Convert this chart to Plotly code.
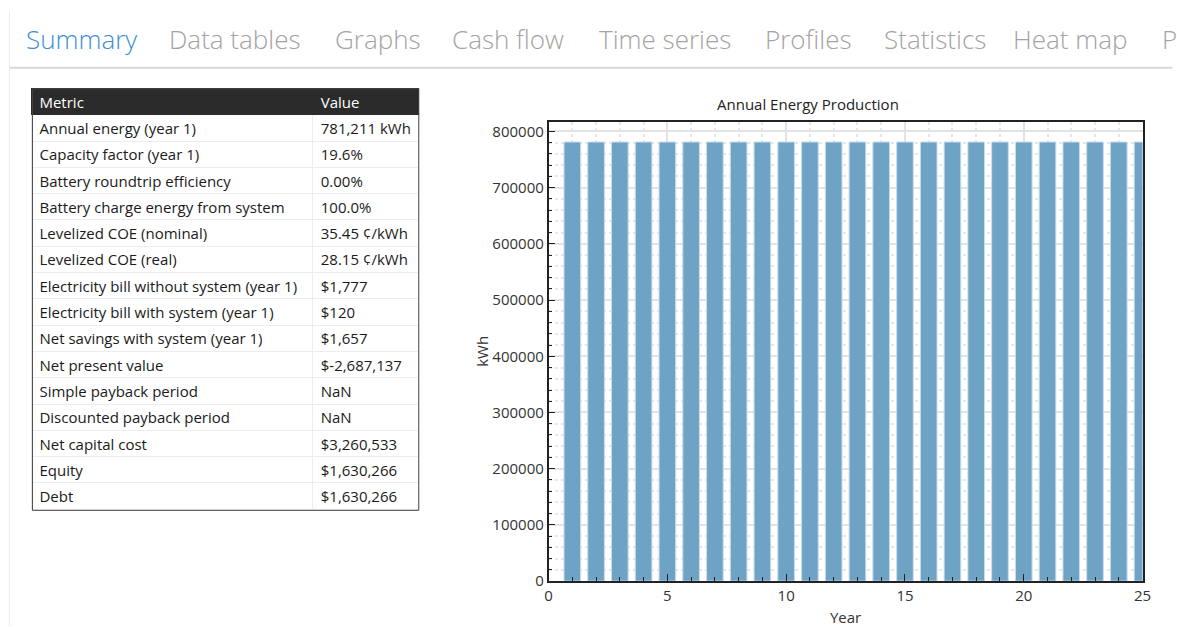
import plotly.graph_objects as go

W, H = 1177, 627
# the drawn page comes out at about this size, so positions are laid out on it
PAGE_W, PAGE_H = 1166, 617
SHIFT_X = 2.5

# tab strip
tabs = ["Summary", "Data tables", "Graphs", "Cash flow", "Time series",
        "Profiles", "Statistics", "Heat map", "P"]
tab_x = [23, 166, 332, 449, 597, 763, 882, 1011, 1160]

# summary table
metrics = [
    "Annual energy (year 1)",
    "Capacity factor (year 1)",
    "Battery roundtrip efficiency",
    "Battery charge energy from system",
    "Levelized COE (nominal)",
    "Levelized COE (real)",
    "Electricity bill without system (year 1)",
    "Electricity bill with system (year 1)",
    "Net savings with system (year 1)",
    "Net present value",
    "Simple payback period",
    "Discounted payback period",
    "Net capital cost",
    "Equity",
    "Debt",
]
values = [
    "781,211\u00a0kWh", "19.6%", "0.00%", "100.0%", "35.45\u00a0¢/kWh",
    "28.15\u00a0¢/kWh", "$1,777", "$120", "$1,657", "$-2,687,137", "NaN", "NaN",
    "$3,260,533", "$1,630,266", "$1,630,266",
]

# annual energy production
years = list(range(1, 26))
energy_kwh = [
    781211, 781211, 781211, 781211, 781211,
    781211, 781211, 781211, 781211, 781211,
    781211, 781211, 781211, 781211, 781211,
    781211, 781211, 781211, 781211, 781211,
    781211, 781211, 781211, 781211, 781211,
]


def px(x):
    return (x - SHIFT_X) / PAGE_W


def py(y):
    return 1 - y / PAGE_H


fig = go.Figure()

fig.add_trace(
    go.Table(
        domain=dict(x=[px(30), px(418)], y=[py(518), py(88)]),
        columnwidth=[282, 106],
        header=dict(
            values=["Metric", "Value"],
            fill_color="#2b2b2b",
            line=dict(color="#2b2b2b", width=1),
            font=dict(family="Open Sans", size=15, color="white"),
            align="left",
            height=26,
        ),
        cells=dict(
            values=[metrics, values],
            fill_color="white",
            line=dict(color="#ededed", width=1),
            font=dict(family="Open Sans", size=15, color="#1a1a1a"),
            align="left",
            height=26.3,
        ),
    )
)

fig.add_trace(
    go.Bar(
        x=years,
        y=energy_kwh,
        width=0.7,
        marker=dict(color="#6fa3c5", line=dict(color="#c9dde9", width=1)),
    )
)

annotations = []
for i, (name, x0) in enumerate(zip(tabs, tab_x)):
    annotations.append(
        dict(
            text=name, x=px(x0), y=py(38), xref="paper", yref="paper",
            xanchor="left", yanchor="middle", showarrow=False,
            font=dict(family="Open Sans", size=26, weight=300,
                      color="#3a8fd9" if i == 0 else "#a3a3a3"),
        )
    )
annotations.append(
    dict(
        text="Annual Energy Production", x=px(808), y=py(103),
        xref="paper", yref="paper", xanchor="center", yanchor="middle",
        showarrow=False, font=dict(family="Open Sans", size=15, color="#222"),
    )
)

axis_font = dict(family="Open Sans", size=15, color="#333")

fig.update_layout(
    width=W,
    height=H,
    margin=dict(l=0, r=0, t=0, b=0),
    paper_bgcolor="white",
    plot_bgcolor="white",
    showlegend=False,
    hovermode=False,
    annotations=annotations,
    shapes=[
        dict(type="line", xref="paper", yref="paper", x0=px(8), x1=px(1173),
             y0=py(67), y1=py(67), line=dict(color="#d9d9d9", width=2)),
        dict(type="line", xref="paper", yref="paper", x0=px(8), x1=px(8),
             y0=py(10), y1=py(627), line=dict(color="#ececec", width=1)),
        dict(type="rect", xref="paper", yref="paper", x0=px(31), x1=px(418),
             y0=py(511), y1=py(88), line=dict(color="#444", width=1)),
    ],
    xaxis=dict(
        domain=[px(548), px(1143)],
        range=[0, 25],
        tickmode="linear", tick0=0, dtick=5,
        ticks="inside", ticklen=7, tickcolor="#222",
        showline=True, linecolor="#222", linewidth=1.5, mirror=True,
        showgrid=True, gridcolor="#e3e3e3", gridwidth=1.5,
        minor=dict(dtick=1, ticks="inside", ticklen=4, tickcolor="#222",
                   showgrid=True, gridcolor="#e6e6e6", griddash="dot"),
        tickfont=axis_font,
        title=dict(text="Year", standoff=12, font=axis_font),
        zeroline=False,
    ),
    yaxis=dict(
        domain=[py(582), py(121)],
        range=[0, 817500],
        tickmode="linear", tick0=0, dtick=100000, tickformat="d",
        ticks="inside", ticklen=7, tickcolor="#222",
        showline=True, linecolor="#222", linewidth=1.5, mirror=True,
        showgrid=True, gridcolor="#e3e3e3", gridwidth=1.5,
        minor=dict(dtick=20000, ticks="inside", ticklen=4, tickcolor="#222",
                   showgrid=True, gridcolor="#e6e6e6", griddash="dot"),
        tickfont=axis_font,
        title=dict(text="kWh", standoff=0, font=axis_font),
        zeroline=False,
    ),
)

fig.write_html(
    "out.html",
    config={"displayModeBar": False},
    post_script="document.body.style.margin='0';document.body.style.overflow='hidden';",
)
